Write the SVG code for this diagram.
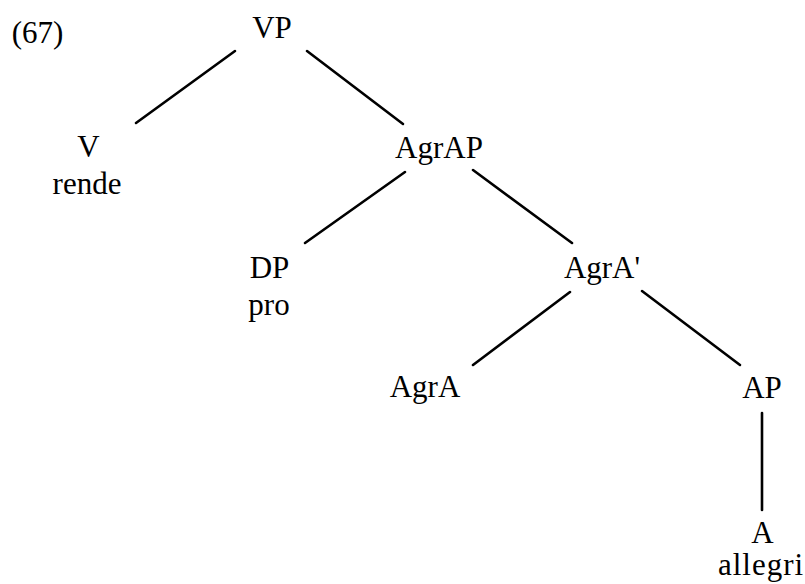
<svg xmlns="http://www.w3.org/2000/svg" width="805" height="584" viewBox="0 0 805 584">
<style>
text{font-size:31px;fill:#000;text-anchor:middle}
.edge{stroke:#000;stroke-width:2.6;fill:none;stroke-linecap:round}
</style>
<rect width="805" height="584" fill="#fff"/>
<g font-family="Liberation Serif, serif">
<text x="37.5" y="43">(67)</text>
<g id="connectors">
<line class="edge" x1="235" y1="51" x2="136" y2="123"/>
<line class="edge" x1="307" y1="51" x2="403" y2="124"/>
<line class="edge" x1="405" y1="172" x2="305" y2="243"/>
<line class="edge" x1="473" y1="170" x2="572" y2="243"/>
<line class="edge" x1="570" y1="292" x2="473" y2="365"/>
<line class="edge" x1="642" y1="291" x2="740" y2="365"/>
<line class="edge" x1="762" y1="413" x2="762" y2="510"/>
</g>
<g id="VP"><text x="272" y="38">VP</text></g>
<g id="V"><text x="88.5" y="157">V</text><text x="87" y="194">rende</text></g>
<g id="AgrAP"><text x="439" y="158">AgrAP</text></g>
<g id="DP"><text x="269.5" y="278">DP</text><text x="269" y="315">pro</text></g>
<g id="AgrA1"><text x="602" y="278">AgrA'</text></g>
<g id="AgrA"><text x="425" y="397">AgrA</text></g>
<g id="AP"><text x="762" y="398">AP</text></g>
<g id="A"><text x="762.5" y="543">A</text><text x="761" y="575" letter-spacing="1">allegri</text></g>
</g>
</svg>
